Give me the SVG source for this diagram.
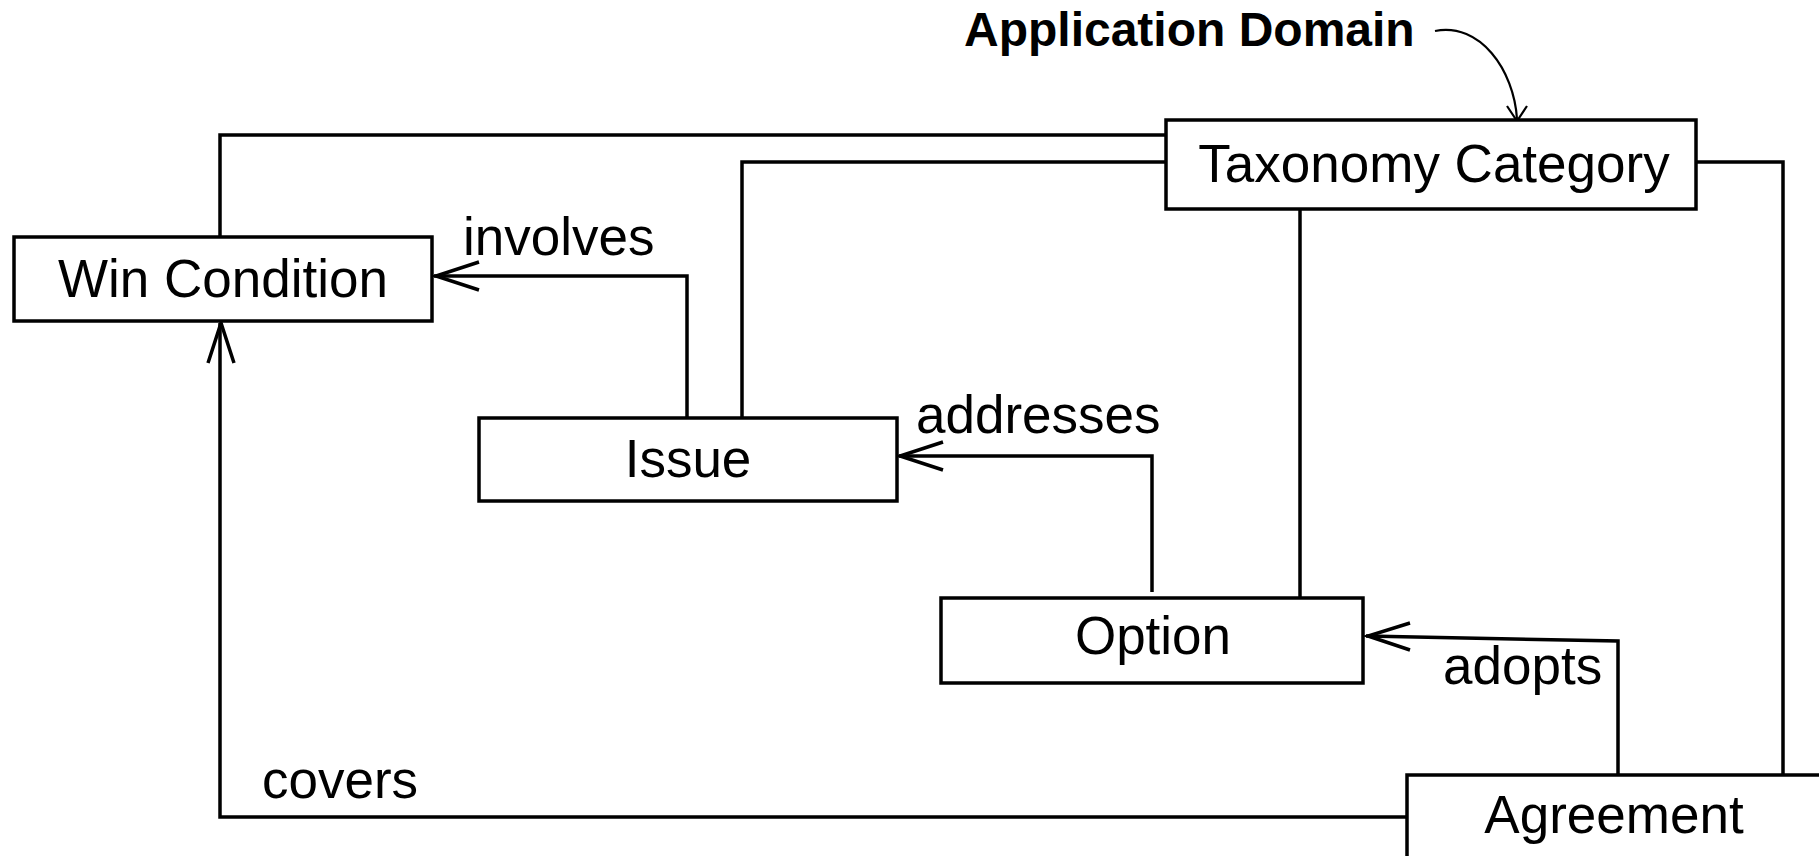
<svg xmlns="http://www.w3.org/2000/svg" width="1819" height="856" viewBox="0 0 1819 856">
<defs>
<style>
.box{fill:#fff;stroke:#000;stroke-width:3.5}
.lbl{font-family:"Liberation Sans",Arial,sans-serif;font-size:53px;fill:#000}
.ttl{font-family:"Liberation Sans",Arial,sans-serif;font-size:48px;font-weight:bold;fill:#000}
.ln{fill:none;stroke:#000;stroke-width:3.5}
.thin{fill:none;stroke:#000;stroke-width:2.2}
</style>
</defs>
<rect width="1819" height="856" fill="#fff"/>
<g id="connectors">
<polyline class="ln" points="220,237 220,135 1166,135"/>
<polyline class="ln" points="742,418 742,162 1166,162"/>
<polyline class="ln" points="1696,162 1783,162 1783,775"/>
<line class="ln" x1="1300" y1="209" x2="1300" y2="599"/>
<polyline class="ln" points="687,418 687,276 434,276"/>
<polyline class="ln" points="479,262 436,276 479,290"/>
<polyline class="ln" points="1152,592 1152,456 899,456"/>
<polyline class="ln" points="943,442 900,456 943,470"/>
<polyline class="ln" points="1618,778 1618,641 1366,636"/>
<polyline class="ln" points="1410,623 1368,636 1410,650"/>
<polyline class="ln" points="1407,817 220,817 220,323"/>
<polyline class="ln" points="208,363 221,323 234,363"/>
<path class="thin" d="M1435,31 C1480,22 1514,70 1517,119"/>
<polyline class="thin" points="1507,106 1517,121 1527,106"/>
</g>
<g id="win-condition">
<rect class="box" x="14" y="237" width="418" height="84"/>
<text class="lbl" x="223" y="297" text-anchor="middle">Win Condition</text>
</g>
<g id="issue">
<rect class="box" x="479" y="418" width="418" height="83"/>
<text class="lbl" x="688" y="477" text-anchor="middle">Issue</text>
</g>
<g id="option">
<rect class="box" x="941" y="598" width="422" height="85"/>
<text class="lbl" x="1153" y="654" text-anchor="middle">Option</text>
</g>
<g id="taxonomy-category">
<rect class="box" x="1166" y="120" width="530" height="89"/>
<text class="lbl" x="1434" y="182" text-anchor="middle">Taxonomy Category</text>
</g>
<g id="agreement">
<rect class="box" x="1407" y="775" width="500" height="200"/>
<text class="lbl" x="1614" y="833" text-anchor="middle">Agreement</text>
</g>
<g id="labels">
<text class="ttl" x="964" y="46">Application Domain</text>
<text class="lbl" x="463" y="255">involves</text>
<text class="lbl" x="916" y="433">addresses</text>
<text class="lbl" x="1443" y="684">adopts</text>
<text class="lbl" x="262" y="798">covers</text>
</g>
</svg>
